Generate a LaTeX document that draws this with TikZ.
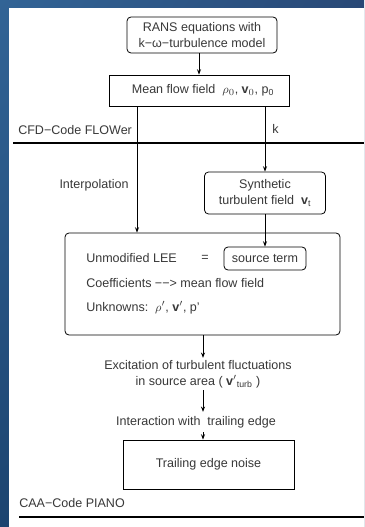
\documentclass[tikz,border=0pt]{standalone}
\usepackage{fontspec}
\setmainfont{Liberation Sans}
\usetikzlibrary{arrows.meta,shadings}
\definecolor{txtgray}{HTML}{383838}
\definecolor{bgul}{RGB}{50,100,150}
\definecolor{bgur}{RGB}{40,72,118}
\definecolor{bgll}{RGB}{28,68,112}
\definecolor{bglr}{RGB}{22,52,92}
\begin{document}
\begin{tikzpicture}[x=0.75pt,y=-0.75pt,
  every node/.style={font=\fontsize{9.4}{12}\selectfont, text=txtgray},
  box/.style={draw=black, line width=0.6pt, inner sep=0pt, align=center},
  rbox/.style={box, rounded corners=3pt},
  lbl/.style={inner sep=1.5pt, align=center},
  arr/.style={line width=0.6pt, -{Stealth[length=4pt,width=3pt]}},
  rulel/.style={line width=1.5pt, black}]
\useasboundingbox (0,0) rectangle (364,527);
\shade[upper left=bgul, upper right=bgur, lower left=bgll, lower right=bglr] (0,0) rectangle (364,527);
\fill[white] (9,8) rectangle (364,527);

% boxes
\node[rbox, minimum width=112.5pt, minimum height=27pt] (rans) at (202,35) {RANS equations with\\k−ω−turbulence model};
\node[box, minimum width=135pt, minimum height=23.25pt] (mean) at (199,90.5) {\hspace{6pt}Mean flow field\ \ $\rho_0$, $\mathbf{v}_0$, p\textsubscript{0}};
\node[rbox, minimum width=90.75pt, minimum height=31.5pt] (synth) at (265,193) {Synthetic\\turbulent field\ \ $\mathbf{v}$\textsubscript{t}};
\node[rbox, minimum width=206.25pt, minimum height=76.5pt] (big) at (202.5,284) {};
\node[rbox, minimum width=61.5pt, minimum height=17.25pt] (src) at (265,258.5) {source term};
\node[box, minimum width=128.25pt, minimum height=36.75pt] (trail) at (208.5,464.5) {Trailing edge noise};

% labels
\node[lbl, anchor=west] (lee) at (84,258) {Unmodified LEE};
\node[lbl] (eq) at (205,258) {=};
\node[lbl, anchor=west] (coef) at (84,283) {Coefficients −−> mean flow field};
\node[lbl, anchor=west] (unk) at (84,308) {Unknowns:\ \ $\rho'$, $\mathbf{v}'$, p'};
\node[lbl] (exc) at (198,374) {Excitation of turbulent fluctuations\\in source area ( $\mathbf{v}'$\textsubscript{turb} )};
\node[lbl, inner sep=3pt] (inter) at (196,422) {Interaction with\ \ trailing edge};
\node[lbl] (interp) at (94,185) {Interpolation};
\node[lbl, anchor=west] (cfd) at (16,130) {CFD−Code FLOWer};
\node[lbl, anchor=west] (kl) at (270,129) {k};
\node[lbl, anchor=west] (caa) at (17,503) {CAA−Code PIANO};

% rules
\coordinate (r1a) at (13,143);
\coordinate (r1b) at (364,143);
\coordinate (r2a) at (19,517);
\coordinate (r2b) at (364,517);
\draw[rulel] (r1a) -- (r1b);
\draw[rulel] (r2a) -- (r2b);

% connectors
\coordinate (lx) at (137,0);
\coordinate (cx) at (203,0);
\draw[arr] (rans.south -| mean.north) -- (mean.north);
\draw[arr] (mean.south -| lx) -- (big.north -| lx);
\draw[arr] (mean.south -| synth.north) -- (synth.north);
\draw[arr] (synth.south) -- (src.north);
\draw[arr] (big.south -| cx) -- (exc.north -| cx);
\draw[arr] (exc.south -| cx) -- (inter.north -| cx);
\draw[arr] (inter.south -| cx) -- (trail.north -| cx);
\end{tikzpicture}
\end{document}
